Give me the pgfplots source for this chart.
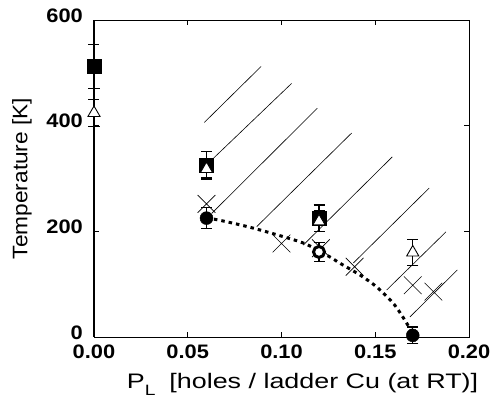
\documentclass[border=0pt]{standalone}
\usepackage{fontspec}
\setmainfont{Liberation Sans}
\newfontfamily\ticksfont[FakeStretch=1.12]{Liberation Sans}
\newfontfamily\ylabfont[FakeStretch=1.08]{Liberation Sans}
\newfontfamily\xlabfont[FakeStretch=1.28]{Liberation Sans}
\usepackage{pgfplots}
\pgfplotsset{compat=1.18}

\begin{document}
\begin{tikzpicture}
\begin{axis}[
    scale only axis,
    width=375pt, height=317pt,
    xmin=0, xmax=0.2, ymin=0, ymax=600,
    xtick={0,0.05,0.1,0.15,0.2},
    ytick={0,200,400,600},
    /pgf/number format/assume math mode=true,
    xticklabel style={/pgf/number format/fixed, /pgf/number format/fixed zerofill, /pgf/number format/precision=2},
    tick style={black, line width=0.8pt},
    major tick length=5pt,
    tick align=inside,
    axis line style={line width=0.9pt},
    every tick label/.append style={font=\ticksfont\bfseries\fontsize{19.5}{22}\selectfont, inner sep=0pt},
    yticklabel style={anchor=east, xshift=-11pt, yshift=4.5pt},
    xticklabel style={anchor=north, yshift=-8pt},
    xlabel={P\raisebox{-7pt}{\fontsize{15}{18}\selectfont L}\hspace{14pt}[holes / ladder Cu (at RT)]},
    ylabel={Temperature [K]},
    xlabel style={font=\xlabfont\fontsize{21}{24}\selectfont, at={(axis description cs:0.556,-0.161)}, anchor=base},
    ylabel style={font=\ylabfont\fontsize{21}{24}\selectfont, at={(axis description cs:-0.192,0.5)}, anchor=center},
    clip=false,
]
% hatching above the boundary
\addplot[black, line width=0.6pt] coordinates {(0.0588,406) (0.0891,512)};
\addplot[black, line width=0.6pt] coordinates {(0.0636,338) (0.1054,480)};
\addplot[black, line width=0.6pt] coordinates {(0.0628,234) (0.1191,433)};
\addplot[black, line width=0.6pt] coordinates {(0.0868,209) (0.1374,386)};
\addplot[black, line width=0.6pt] coordinates {(0.1116,174) (0.1591,341)};
\addplot[black, line width=0.6pt] coordinates {(0.1383,140) (0.1788,282)};
\addplot[black, line width=0.6pt] coordinates {(0.1561,89) (0.1877,199)};
\addplot[black, line width=0.6pt] coordinates {(0.1685,38) (0.1938,127)};

% crosses
\addplot[only marks, mark=x, mark size=12.5pt, mark options={line width=0.6pt}] coordinates {
    (0.060,252) (0.100,177) (0.121,168) (0.139,133) (0.170,98) (0.181,86)
};

% boundary (dotted)
\addplot[black, line width=3pt, dash pattern=on 3.5pt off 4pt, smooth] coordinates {
    (0.060,225) (0.067,221) (0.085,206) (0.110,180) (0.120,163) (0.127,149)
    (0.131,140) (0.142,117) (0.151,94) (0.160,62) (0.1668,26) (0.170,5)
};

% filled squares
\addplot[only marks, mark=square*, mark size=7pt, black,
    error bars/.cd, y dir=both, y explicit,
    error bar style={line width=1.2pt}, error mark options={rotate=90, mark size=5.5pt, line width=1.2pt}]
    coordinates {
    (0.000,512) +- (0,41)
    (0.060,326) +- (0,25)
    (0.120,225) +- (0,25)
};

% open triangles
\addplot[only marks, mark=triangle*, mark size=7pt, mark options={fill=white, draw=black, line width=0.9pt}, black,
    error bars/.cd, y dir=both, y explicit,
    error bar style={line width=1.2pt}, error mark options={rotate=90, mark size=5.5pt, line width=1.2pt}]
    coordinates {
    (0.000,424) +- (0,25)
    (0.060,318) +- (0,20)
    (0.120,219) +- (0,20)
    (0.170,160) +- (0,25)
};

% filled circles
\addplot[only marks, mark=*, mark size=6.5pt, black,
    error bars/.cd, y dir=both, y explicit,
    error bar style={line width=1.2pt}, error mark options={rotate=90, mark size=5.5pt, line width=1.2pt}]
    coordinates {
    (0.060,225) +- (0,20)
    (0.170,3) +- (0,16)
};
\addplot[only marks, mark=*, mark size=5.5pt, mark options={fill=white, draw=black, line width=3pt}, black,
    error bars/.cd, y dir=both, y explicit,
    error bar style={line width=1.2pt}, error mark options={rotate=90, mark size=5.5pt, line width=1.2pt}]
    coordinates {
    (0.120,161) +- (0,18)
};

% heavier left axis line
\draw[line width=2.5pt] (rel axis cs:0,0) -- (rel axis cs:0,1);
\coordinate (ll) at (rel axis cs:0,0);
\coordinate (ur) at (rel axis cs:1,1);
\end{axis}
\pgfresetboundingbox
\path ([shift={(-94pt,-66pt)}]ll) rectangle ([shift={(25pt,20pt)}]ur);
\end{tikzpicture}
\end{document}
